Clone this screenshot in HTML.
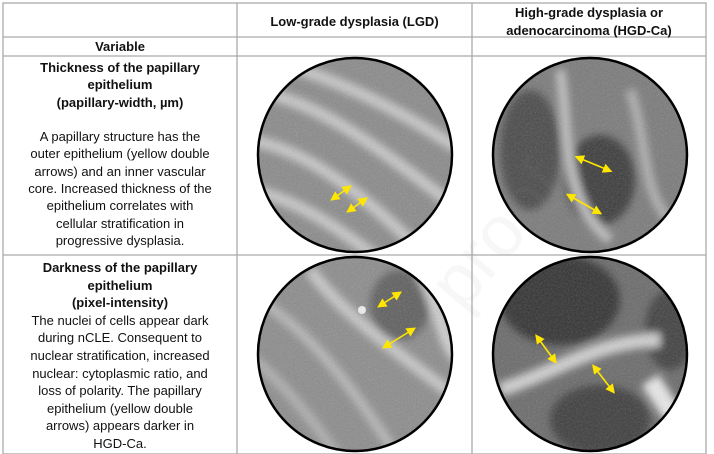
<!DOCTYPE html>
<html><head><meta charset="utf-8"><style>
body{margin:0;width:714px;height:454px;overflow:hidden;background:#fff;font-family:"Liberation Sans",Arial,sans-serif;}
.t{position:absolute;text-align:center;color:#111;font-size:13px;line-height:17.3px;}
.b{font-weight:bold;}
</style></head><body>
<svg width="714" height="454" style="position:absolute;left:0;top:0">
<defs>
<filter id="blur"><feGaussianBlur stdDeviation="4"/></filter>
<filter id="noise"><feTurbulence type="fractalNoise" baseFrequency="0.6" numOctaves="2" result="n"/><feColorMatrix type="saturate" values="0"/><feComponentTransfer><feFuncA type="table" tableValues="0 0.25"/></feComponentTransfer></filter>
<clipPath id="c1"><circle cx="355" cy="155" r="97"/></clipPath>
<clipPath id="c2"><circle cx="590" cy="155" r="97"/></clipPath>
<clipPath id="c3"><circle cx="355" cy="354" r="97"/></clipPath>
<clipPath id="c4"><circle cx="590" cy="354" r="97"/></clipPath>
<marker id="ah" markerWidth="6" markerHeight="6" refX="3" refY="3" orient="auto-start-reverse"><path d="M0,0 L6,3 L0,6z" fill="#ffe600"/></marker>
</defs>
<g stroke="#aaa" stroke-width="1.3" fill="none">
<rect x="3" y="3" width="703" height="451"/>
<line x1="237" y1="3" x2="237" y2="454"/>
<line x1="472" y1="3" x2="472" y2="454"/>
<line x1="3" y1="37" x2="706" y2="37"/>
<line x1="3" y1="56" x2="706" y2="56"/>
<line x1="3" y1="255" x2="706" y2="255"/>
</g>
<g clip-path="url(#c1)">
<rect x="250" y="50" width="210" height="210" fill="#8a8a8a"/>
<g filter="url(#blur)" stroke="#c8c8c8" stroke-width="12" fill="none">
<path d="M250,90 C320,100 380,150 460,210"/><path d="M250,140 C310,150 370,200 430,260"/><path d="M270,60 C340,80 400,110 460,150"/><path d="M250,190 C300,200 340,230 380,260"/>
</g>
<rect x="250" y="50" width="210" height="210" filter="url(#noise)"/>
</g>
<g clip-path="url(#c2)">
<rect x="485" y="50" width="210" height="210" fill="#7a7a7a"/>
<g filter="url(#blur)">
<ellipse cx="600" cy="180" rx="35" ry="45" fill="#3a3a3a"/><ellipse cx="530" cy="150" rx="30" ry="60" fill="#4a4a4a"/>
<path d="M560,70 C570,130 560,200 610,240" stroke="#c0c0c0" stroke-width="10" fill="none"/>
<path d="M630,90 C650,150 640,200 680,230" stroke="#b0b0b0" stroke-width="10" fill="none"/>
</g>
<rect x="485" y="50" width="210" height="210" filter="url(#noise)"/>
</g>
<g clip-path="url(#c3)">
<rect x="250" y="250" width="210" height="210" fill="#8c8c8c"/>
<g filter="url(#blur)" fill="none">
<ellipse cx="400" cy="305" rx="30" ry="35" fill="#5e5e5e"/>
<path d="M310,270 C340,310 380,340 460,400" stroke="#c8c8c8" stroke-width="12"/>
<path d="M260,300 C320,340 360,400 400,460" stroke="#b8b8b8" stroke-width="10"/>
<path d="M255,360 C290,390 320,430 340,460" stroke="#b0b0b0" stroke-width="10"/>
<path d="M420,270 C440,300 440,340 460,360" stroke="#cfcfcf" stroke-width="14"/>
</g>
<circle cx="362" cy="310" r="4" fill="#eee"/>
<rect x="250" y="250" width="210" height="210" filter="url(#noise)"/>
</g>
<g clip-path="url(#c4)">
<rect x="485" y="250" width="210" height="210" fill="#6a6a6a"/>
<g filter="url(#blur)" fill="none">
<ellipse cx="560" cy="300" rx="60" ry="45" fill="#333"/>
<ellipse cx="600" cy="420" rx="50" ry="35" fill="#3c3c3c"/>
<ellipse cx="670" cy="330" rx="25" ry="40" fill="#404040"/>
<path d="M500,390 C560,370 600,340 660,340" stroke="#d0d0d0" stroke-width="14"/>
<path d="M650,380 C670,410 680,430 700,440" stroke="#e8e8e8" stroke-width="20"/>
</g>
<rect x="485" y="250" width="210" height="210" filter="url(#noise)"/>
</g>
<g fill="none" stroke="#000" stroke-width="2.5">
<circle cx="355" cy="155" r="97"/><circle cx="590" cy="155" r="97"/><circle cx="355" cy="354" r="97"/><circle cx="590" cy="354" r="97"/>
</g>
<g stroke="#ffe600" stroke-width="1.6" marker-start="url(#ah)" marker-end="url(#ah)">
<line x1="334" y1="198" x2="348" y2="188"/><line x1="350" y1="210" x2="364" y2="200"/>
<line x1="579" y1="158" x2="608" y2="170"/><line x1="570" y1="196" x2="598" y2="212"/>
<line x1="381" y1="305" x2="398" y2="294"/><line x1="386" y1="346" x2="412" y2="330"/>
<line x1="538" y1="338" x2="554" y2="360"/><line x1="595" y1="368" x2="612" y2="390"/>
</g>
<text x="410" y="300" font-size="72" fill="#888" fill-opacity="0.07" transform="rotate(-50 450 250)" font-family="Liberation Sans">proof</text>
</svg>
<div class="t b" style="left:237px;top:13px;width:235px">Low-grade dysplasia (LGD)</div>
<div class="t b" style="left:472px;top:4px;width:234px;line-height:18px">High-grade dysplasia or<br>adenocarcinoma (HGD-Ca)</div>
<div class="t b" style="left:3px;top:38px;width:234px">Variable</div>
<div class="t" style="left:3px;top:59px;width:234px"><span class="b">Thickness of the papillary<br>epithelium<br>(papillary-width, µm)</span><br><br>A papillary structure has the<br>outer epithelium (yellow double<br>arrows) and an inner vascular<br>core. Increased thickness of the<br>epithelium correlates with<br>cellular stratification in<br>progressive dysplasia.</div>
<div class="t" style="left:3px;top:259px;width:234px;line-height:17.6px"><span class="b">Darkness of the papillary<br>epithelium<br>(pixel-intensity)</span><br>The nuclei of cells appear dark<br>during nCLE. Consequent to<br>nuclear stratification, increased<br>nuclear: cytoplasmic ratio, and<br>loss of polarity. The papillary<br>epithelium (yellow double<br>arrows) appears darker in<br>HGD-Ca.</div>
</body></html>
